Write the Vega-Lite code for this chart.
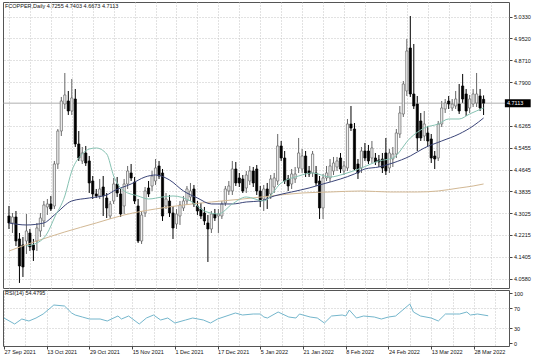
{
  "$schema": "https://vega.github.io/schema/vega-lite/v6.json",
  "padding": {"left": 1, "top": 1, "right": 0, "bottom": 0},
  "background": "white",
  "spacing": 0,
  "config": {
    "view": {"stroke": "#555", "strokeWidth": 1},
    "font": "Liberation Sans",
    "axis": {"labelFont": "Liberation Sans", "labelFontSize": 5.5, "labelColor": "#111", "gridColor": "#c4c4c4", "gridDash": [1, 2], "gridWidth": 1, "domain": false, "tickColor": "#444", "tickSize": 3, "labelPadding": 1.5, "title": null, "labelOverlap": false, "labelFlush": false, "labelBound": false},
    "title": {"font": "Liberation Sans", "fontSize": 5.5, "fontWeight": "normal", "color": "#111", "anchor": "start", "frame": "group"}
  },
  "datasets": {
    "candles": [
      {"i":0,"o":4.2919,"h":4.3291,"l":4.2436,"c":4.2659},
      {"i":1,"o":4.2659,"h":4.3031,"l":4.2287,"c":4.2882},
      {"i":2,"o":4.2882,"h":4.3105,"l":4.1804,"c":4.1990},
      {"i":3,"o":4.2065,"h":4.2287,"l":4.0430,"c":4.1061},
      {"i":4,"o":4.1842,"h":4.2139,"l":4.0652,"c":4.1024},
      {"i":5,"o":4.1990,"h":4.2994,"l":4.1507,"c":4.2362},
      {"i":6,"o":4.2287,"h":4.2436,"l":4.1618,"c":4.1767},
      {"i":7,"o":4.1842,"h":4.2065,"l":4.1247,"c":4.1656},
      {"i":8,"o":4.1990,"h":4.2659,"l":4.1618,"c":4.2473},
      {"i":9,"o":4.2362,"h":4.3031,"l":4.2139,"c":4.2845},
      {"i":10,"o":4.2734,"h":4.3477,"l":4.2510,"c":4.3328},
      {"i":11,"o":4.3254,"h":4.3551,"l":4.2957,"c":4.3366},
      {"i":12,"o":4.3366,"h":4.3663,"l":4.3105,"c":4.3180},
      {"i":13,"o":4.3291,"h":4.4964,"l":4.3180,"c":4.4852},
      {"i":14,"o":4.4852,"h":4.6153,"l":4.4666,"c":4.6079},
      {"i":15,"o":4.6079,"h":4.7343,"l":4.5893,"c":4.7194},
      {"i":16,"o":4.7082,"h":4.8235,"l":4.6897,"c":4.7417},
      {"i":17,"o":4.7194,"h":4.7566,"l":4.6674,"c":4.6822},
      {"i":18,"o":4.6822,"h":4.8012,"l":4.6674,"c":4.7306},
      {"i":19,"o":4.7268,"h":4.7640,"l":4.5484,"c":4.5596},
      {"i":20,"o":4.5596,"h":4.6079,"l":4.4964,"c":4.5075},
      {"i":21,"o":4.4964,"h":4.5484,"l":4.4852,"c":4.5261},
      {"i":22,"o":4.5261,"h":4.5521,"l":4.4778,"c":4.4890},
      {"i":23,"o":4.4964,"h":4.5150,"l":4.3774,"c":4.4146},
      {"i":24,"o":4.4220,"h":4.4406,"l":4.3551,"c":4.3737},
      {"i":25,"o":4.3737,"h":4.3923,"l":4.3588,"c":4.3663},
      {"i":26,"o":4.3663,"h":4.4295,"l":4.3551,"c":4.3923},
      {"i":27,"o":4.3997,"h":4.4406,"l":4.2919,"c":4.3663},
      {"i":28,"o":4.3588,"h":4.3774,"l":4.2845,"c":4.3217},
      {"i":29,"o":4.2919,"h":4.3477,"l":4.2808,"c":4.3366},
      {"i":30,"o":4.3477,"h":4.4332,"l":4.3366,"c":4.4109},
      {"i":31,"o":4.4109,"h":4.4369,"l":4.3626,"c":4.3774},
      {"i":32,"o":4.3737,"h":4.3923,"l":4.2882,"c":4.2994},
      {"i":33,"o":4.3291,"h":4.4295,"l":4.2994,"c":4.4109},
      {"i":34,"o":4.4109,"h":4.4778,"l":4.3923,"c":4.4592},
      {"i":35,"o":4.4518,"h":4.4852,"l":4.4220,"c":4.4332},
      {"i":36,"o":4.4183,"h":4.4369,"l":4.3366,"c":4.3477},
      {"i":37,"o":4.3291,"h":4.3551,"l":4.1916,"c":4.1990},
      {"i":38,"o":4.1990,"h":4.3105,"l":4.1879,"c":4.2957},
      {"i":39,"o":4.3031,"h":4.3997,"l":4.2882,"c":4.3849},
      {"i":40,"o":4.3960,"h":4.4220,"l":4.3626,"c":4.3737},
      {"i":41,"o":4.4034,"h":4.4592,"l":4.3849,"c":4.4406},
      {"i":42,"o":4.4220,"h":4.5038,"l":4.4072,"c":4.4704},
      {"i":43,"o":4.4778,"h":4.4964,"l":4.4295,"c":4.4406},
      {"i":44,"o":4.4518,"h":4.4666,"l":4.2734,"c":4.2919},
      {"i":45,"o":4.3291,"h":4.3774,"l":4.3180,"c":4.3551},
      {"i":46,"o":4.3477,"h":4.3700,"l":4.2882,"c":4.3031},
      {"i":47,"o":4.3031,"h":4.3291,"l":4.2065,"c":4.2473},
      {"i":48,"o":4.2622,"h":4.3180,"l":4.2436,"c":4.2994},
      {"i":49,"o":4.2919,"h":4.3477,"l":4.2585,"c":4.3328},
      {"i":50,"o":4.3217,"h":4.3663,"l":4.3105,"c":4.3477},
      {"i":51,"o":4.3477,"h":4.4034,"l":4.3328,"c":4.3923},
      {"i":52,"o":4.3626,"h":4.4146,"l":4.3477,"c":4.3849},
      {"i":53,"o":4.3923,"h":4.4072,"l":4.3254,"c":4.3366},
      {"i":54,"o":4.3291,"h":4.3477,"l":4.2957,"c":4.3105},
      {"i":55,"o":4.3180,"h":4.3403,"l":4.2808,"c":4.2919},
      {"i":56,"o":4.3031,"h":4.3254,"l":4.2585,"c":4.2734},
      {"i":57,"o":4.2659,"h":4.2957,"l":4.1210,"c":4.2436},
      {"i":58,"o":4.2436,"h":4.3105,"l":4.2287,"c":4.2994},
      {"i":59,"o":4.2994,"h":4.3180,"l":4.2734,"c":4.2845},
      {"i":60,"o":4.2919,"h":4.3180,"l":4.2287,"c":4.2994},
      {"i":61,"o":4.2919,"h":4.3477,"l":4.2808,"c":4.3366},
      {"i":62,"o":4.3403,"h":4.4034,"l":4.3291,"c":4.3923},
      {"i":63,"o":4.3849,"h":4.4220,"l":4.3700,"c":4.4034},
      {"i":64,"o":4.3849,"h":4.4964,"l":4.3700,"c":4.4666},
      {"i":65,"o":4.4666,"h":4.4927,"l":4.4034,"c":4.4146},
      {"i":66,"o":4.4332,"h":4.4518,"l":4.3997,"c":4.4146},
      {"i":67,"o":4.4295,"h":4.4443,"l":4.3774,"c":4.3849},
      {"i":68,"o":4.3960,"h":4.4592,"l":4.3774,"c":4.4443},
      {"i":69,"o":4.4220,"h":4.4778,"l":4.4072,"c":4.4592},
      {"i":70,"o":4.4592,"h":4.4741,"l":4.3997,"c":4.4146},
      {"i":71,"o":4.4666,"h":4.4815,"l":4.3700,"c":4.3849},
      {"i":72,"o":4.3849,"h":4.4034,"l":4.3254,"c":4.3477},
      {"i":73,"o":4.3551,"h":4.4072,"l":4.3105,"c":4.3923},
      {"i":74,"o":4.3923,"h":4.4146,"l":4.3180,"c":4.3663},
      {"i":75,"o":4.3737,"h":4.4443,"l":4.3551,"c":4.4295},
      {"i":76,"o":4.3997,"h":4.4518,"l":4.3774,"c":4.4332},
      {"i":77,"o":4.4220,"h":4.5967,"l":4.4072,"c":4.5521},
      {"i":78,"o":4.5521,"h":4.5707,"l":4.4964,"c":4.5075},
      {"i":79,"o":4.5075,"h":4.5335,"l":4.4109,"c":4.4220},
      {"i":80,"o":4.4295,"h":4.4443,"l":4.3849,"c":4.4034},
      {"i":81,"o":4.4109,"h":4.4666,"l":4.3923,"c":4.4481},
      {"i":82,"o":4.4295,"h":4.4741,"l":4.4146,"c":4.4481},
      {"i":83,"o":4.4704,"h":4.5819,"l":4.4518,"c":4.5261},
      {"i":84,"o":4.4666,"h":4.5410,"l":4.4518,"c":4.5150},
      {"i":85,"o":4.5150,"h":4.5335,"l":4.4369,"c":4.4518},
      {"i":86,"o":4.4592,"h":4.4778,"l":4.4369,"c":4.4481},
      {"i":87,"o":4.4518,"h":4.5335,"l":4.4369,"c":4.5224},
      {"i":88,"o":4.4518,"h":4.4778,"l":4.4034,"c":4.4146},
      {"i":89,"o":4.4220,"h":4.4406,"l":4.2808,"c":4.3217},
      {"i":90,"o":4.3217,"h":4.4481,"l":4.2808,"c":4.4332},
      {"i":91,"o":4.4332,"h":4.4778,"l":4.4220,"c":4.4518},
      {"i":92,"o":4.4332,"h":4.5038,"l":4.4183,"c":4.4778},
      {"i":93,"o":4.4592,"h":4.5113,"l":4.4443,"c":4.4890},
      {"i":94,"o":4.4741,"h":4.5113,"l":4.4592,"c":4.4964},
      {"i":95,"o":4.5075,"h":4.5261,"l":4.4518,"c":4.4666},
      {"i":96,"o":4.4592,"h":4.4964,"l":4.4443,"c":4.4778},
      {"i":97,"o":4.4704,"h":4.6525,"l":4.4592,"c":4.6339},
      {"i":98,"o":4.6339,"h":4.7008,"l":4.6079,"c":4.6190},
      {"i":99,"o":4.6153,"h":4.6376,"l":4.4592,"c":4.4666},
      {"i":100,"o":4.4852,"h":4.5038,"l":4.4295,"c":4.4518},
      {"i":101,"o":4.4704,"h":4.5484,"l":4.4518,"c":4.5335},
      {"i":102,"o":4.5335,"h":4.5633,"l":4.4964,"c":4.5075},
      {"i":103,"o":4.5335,"h":4.5559,"l":4.4852,"c":4.4964},
      {"i":104,"o":4.5075,"h":4.5707,"l":4.4890,"c":4.5447},
      {"i":105,"o":4.5075,"h":4.5261,"l":4.4815,"c":4.4927},
      {"i":106,"o":4.5001,"h":4.5187,"l":4.4741,"c":4.4927},
      {"i":107,"o":4.5038,"h":4.5261,"l":4.4518,"c":4.4704},
      {"i":108,"o":4.5261,"h":4.5819,"l":4.4443,"c":4.4592},
      {"i":109,"o":4.4704,"h":4.5410,"l":4.4518,"c":4.5261},
      {"i":110,"o":4.5038,"h":4.5484,"l":4.4741,"c":4.5224},
      {"i":111,"o":4.5224,"h":4.6153,"l":4.5075,"c":4.6005},
      {"i":112,"o":4.5967,"h":4.7008,"l":4.5819,"c":4.6748},
      {"i":113,"o":4.6711,"h":4.7937,"l":4.6599,"c":4.7826},
      {"i":114,"o":4.7566,"h":4.9499,"l":4.7380,"c":4.9052},
      {"i":115,"o":4.9164,"h":5.0353,"l":4.7343,"c":4.7454},
      {"i":116,"o":4.7454,"h":4.9313,"l":4.6897,"c":4.7008},
      {"i":117,"o":4.7082,"h":4.7380,"l":4.5335,"c":4.5819},
      {"i":118,"o":4.6451,"h":4.6748,"l":4.5707,"c":4.5819},
      {"i":119,"o":4.5893,"h":4.6822,"l":4.5707,"c":4.6339},
      {"i":120,"o":4.6005,"h":4.6265,"l":4.5521,"c":4.5707},
      {"i":121,"o":4.5782,"h":4.5967,"l":4.4890,"c":4.5075},
      {"i":122,"o":4.5150,"h":4.5335,"l":4.4666,"c":4.5038},
      {"i":123,"o":4.5075,"h":4.6451,"l":4.4964,"c":4.6339},
      {"i":124,"o":4.6339,"h":4.7194,"l":4.6228,"c":4.6934},
      {"i":125,"o":4.6897,"h":4.7268,"l":4.6748,"c":4.7120},
      {"i":126,"o":4.7194,"h":4.7380,"l":4.6897,"c":4.7082},
      {"i":127,"o":4.6934,"h":4.7268,"l":4.6822,"c":4.7082},
      {"i":128,"o":4.7008,"h":4.7566,"l":4.6897,"c":4.7268},
      {"i":129,"o":4.7082,"h":4.7826,"l":4.6711,"c":4.6822},
      {"i":130,"o":4.7752,"h":4.8198,"l":4.7120,"c":4.7268},
      {"i":131,"o":4.7454,"h":4.7640,"l":4.6636,"c":4.6822},
      {"i":132,"o":4.6934,"h":4.7417,"l":4.6748,"c":4.7268},
      {"i":133,"o":4.7082,"h":4.7640,"l":4.6971,"c":4.7454},
      {"i":134,"o":4.7120,"h":4.8235,"l":4.6971,"c":4.7454},
      {"i":135,"o":4.7380,"h":4.7640,"l":4.6822,"c":4.6934},
      {"i":136,"o":4.7255,"h":4.7403,"l":4.6673,"c":4.7113}
    ],
    "fast": [
      {"i":5,"v":4.1804},{"i":9,"v":4.1990},{"i":11,"v":4.2287},{"i":13,"v":4.2845},{"i":16,"v":4.3663},{"i":18,"v":4.4592},{"i":21,"v":4.5224},{"i":23,"v":4.5410},{"i":25,"v":4.5447},{"i":28,"v":4.5224},{"i":30,"v":4.4406},{"i":33,"v":4.3849},{"i":37,"v":4.3663},{"i":40,"v":4.3551},{"i":44,"v":4.3626},{"i":47,"v":4.3663},{"i":52,"v":4.3477},{"i":56,"v":4.3105},{"i":60,"v":4.2994},{"i":64,"v":4.3366},{"i":68,"v":4.3626},{"i":73,"v":4.3477},{"i":78,"v":4.4146},{"i":83,"v":4.4406},{"i":87,"v":4.4518},{"i":92,"v":4.4369},{"i":96,"v":4.4481},{"i":101,"v":4.4704},{"i":106,"v":4.4964},{"i":110,"v":4.5075},{"i":115,"v":4.5819},{"i":119,"v":4.6190},{"i":123,"v":4.6339},{"i":126,"v":4.6525},{"i":129,"v":4.6525},{"i":132,"v":4.6711},{"i":136,"v":4.6934}
    ],
    "mid": [
      {"i":0,"v":4.2659},{"i":5,"v":4.2585},{"i":10,"v":4.2659},{"i":13,"v":4.2957},{"i":18,"v":4.3477},{"i":23,"v":4.3588},{"i":28,"v":4.3700},{"i":30,"v":4.3849},{"i":35,"v":4.4109},{"i":39,"v":4.4369},{"i":42,"v":4.4443},{"i":46,"v":4.4258},{"i":50,"v":4.3849},{"i":54,"v":4.3588},{"i":58,"v":4.3366},{"i":64,"v":4.3366},{"i":68,"v":4.3440},{"i":72,"v":4.3477},{"i":76,"v":4.3663},{"i":81,"v":4.3811},{"i":86,"v":4.3960},{"i":90,"v":4.4109},{"i":95,"v":4.4295},{"i":99,"v":4.4481},{"i":102,"v":4.4666},{"i":106,"v":4.4741},{"i":110,"v":4.4890},{"i":115,"v":4.5150},{"i":119,"v":4.5447},{"i":124,"v":4.5707},{"i":129,"v":4.5967},{"i":133,"v":4.6265},{"i":136,"v":4.6562}
    ],
    "slow": [
      {"i":0,"v":4.1618},{"i":8,"v":4.1990},{"i":16,"v":4.2325},{"i":25,"v":4.2659},{"i":33,"v":4.2957},{"i":42,"v":4.3180},{"i":50,"v":4.3328},{"i":58,"v":4.3440},{"i":67,"v":4.3551},{"i":75,"v":4.3663},{"i":84,"v":4.3774},{"i":92,"v":4.3811},{"i":101,"v":4.3849},{"i":109,"v":4.3811},{"i":117,"v":4.3811},{"i":123,"v":4.3849},{"i":129,"v":4.3960},{"i":133,"v":4.4034},{"i":136,"v":4.4109}
    ],
    "rsi": [
      {"i":0,"v":50},{"i":3,"v":38},{"i":5,"v":48},{"i":7,"v":44},{"i":9,"v":50},{"i":11,"v":58},{"i":13,"v":70},{"i":14,"v":76},{"i":17,"v":74},{"i":19,"v":60},{"i":20,"v":56},{"i":22,"v":52},{"i":24,"v":48},{"i":27,"v":48},{"i":29,"v":44},{"i":32,"v":54},{"i":33,"v":48},{"i":35,"v":54},{"i":38,"v":38},{"i":40,"v":50},{"i":42,"v":56},{"i":44,"v":46},{"i":46,"v":50},{"i":48,"v":40},{"i":51,"v":46},{"i":53,"v":50},{"i":56,"v":46},{"i":58,"v":40},{"i":60,"v":48},{"i":65,"v":60},{"i":67,"v":56},{"i":70,"v":58},{"i":72,"v":58},{"i":73,"v":52},{"i":74,"v":50},{"i":77,"v":62},{"i":80,"v":52},{"i":82,"v":50},{"i":83,"v":58},{"i":86,"v":52},{"i":88,"v":50},{"i":90,"v":40},{"i":92,"v":54},{"i":95,"v":56},{"i":96,"v":54},{"i":97,"v":66},{"i":99,"v":50},{"i":101,"v":54},{"i":104,"v":52},{"i":106,"v":48},{"i":108,"v":52},{"i":110,"v":54},{"i":114,"v":78},{"i":115,"v":62},{"i":117,"v":54},{"i":120,"v":50},{"i":122,"v":44},{"i":124,"v":58},{"i":127,"v":58},{"i":128,"v":58},{"i":130,"v":62},{"i":131,"v":56},{"i":133,"v":58},{"i":136,"v":54.48}
    ]
  },
  "vconcat": [
    {
      "width": 506,
      "height": 286,
      "title": {"text": "FCOPPER,Daily  4.7255 4.7403 4.6673 4.7113", "offset": -7, "dx": 2},
      "data": {"name": "candles"},
      "resolve": {"axis": {"x": "independent", "y": "independent"}},
      "layer": [
        {
          "mark": {"type": "rule", "strokeWidth": 1},
          "encoding": {
            "x": {"field": "i", "type": "quantitative", "scale": {"domain": [-0.28, 141.85], "nice": false, "zero": false},
                  "axis": {"orient": "bottom", "values": [0,6,12,18,24,30,36,42,48,54,60,66,72,78,84,90,96,102,108,114,120,126,132,138], "labels": false, "ticks": false, "grid": true}},
            "y": {"field": "l", "type": "quantitative", "scale": {"domain": [4.0242, 5.0874], "nice": false, "zero": false},
                  "axis": {"orient": "right", "values": [5.033, 4.952, 4.871, 4.79, 4.6265, 4.5455, 4.4645, 4.3835, 4.3025, 4.2215, 4.1405, 4.058], "format": ".4f", "grid": true, "labelOverlap": false, "labelBound": false, "labelFlush": false}},
            "y2": {"field": "h"},
            "color": {"condition": {"test": "datum.c < datum.o", "value": "#000000"}, "value": "#666666"}
          }
        },
        {
          "data": {"values": [{"p": 4.7113}]},
          "mark": {"type": "rule", "color": "#9a9a9a", "strokeWidth": 0.8},
          "encoding": {"y": {"field": "p", "type": "quantitative", "axis": null}}
        },
        {
          "mark": {"type": "bar", "width": 2.2, "strokeWidth": 0.7},
          "encoding": {
            "x": {"field": "i", "type": "quantitative", "axis": null},
            "y": {"field": "o", "type": "quantitative", "axis": null},
            "y2": {"field": "c"},
            "fill": {"condition": {"test": "datum.c < datum.o", "value": "#000000"}, "value": "#f2f2f2"},
            "stroke": {"condition": {"test": "datum.c < datum.o", "value": "#000000"}, "value": "#666666"}
          }
        },
        {
          "data": {"name": "slow"},
          "mark": {"type": "line", "color": "#d2b894", "strokeWidth": 1, "interpolate": "monotone"},
          "encoding": {"x": {"field": "i", "type": "quantitative", "axis": null}, "y": {"field": "v", "type": "quantitative", "axis": null}}
        },
        {
          "data": {"name": "mid"},
          "mark": {"type": "line", "color": "#3b4578", "strokeWidth": 1, "interpolate": "monotone"},
          "encoding": {"x": {"field": "i", "type": "quantitative", "axis": null}, "y": {"field": "v", "type": "quantitative", "axis": null}}
        },
        {
          "data": {"name": "fast"},
          "mark": {"type": "line", "color": "#86c2b2", "strokeWidth": 1, "interpolate": "monotone"},
          "encoding": {"x": {"field": "i", "type": "quantitative", "axis": null}, "y": {"field": "v", "type": "quantitative", "axis": null}}
        },
        {
          "data": {"values": [{"p": 4.7113}]},
          "mark": {"type": "rect", "color": "#000000"},
          "encoding": {"x": {"datum": 142.1, "axis": null}, "x2": {"datum": 149.5}, "y": {"datum": 4.7263, "axis": null}, "y2": {"datum": 4.6963}}
        },
        {
          "data": {"values": [{"p": 4.7113}]},
          "mark": {"type": "text", "color": "#ffffff", "align": "left", "baseline": "middle", "font": "Liberation Sans", "fontSize": 5.5},
          "encoding": {"x": {"datum": 142.7, "axis": null}, "y": {"field": "p", "type": "quantitative", "axis": null}, "text": {"field": "p", "type": "quantitative", "format": ".4f"}}
        }
      ]
    },
    {
      "width": 506,
      "height": 56,
      "title": {"text": "RSI(14) 54.4795", "offset": -6, "dx": 2},
      "data": {"name": "rsi"},
      "mark": {"type": "line", "color": "#74b6cc", "strokeWidth": 1},
      "encoding": {
        "x": {"field": "i", "type": "quantitative", "scale": {"domain": [-0.28, 141.85], "nice": false, "zero": false},
              "axis": {"orient": "bottom", "values": [0,6,12,18,24,30,36,42,48,54,60,66,72,78,84,90,96,102,108,114,120,126,132,138], "grid": true, "labelAlign": "left", "labelPadding": 0.5, "tickSize": 3, "labelOverlap": false,
                       "tickOpacity": {"condition": {"test": "datum.value % 12 == 0", "value": 1}, "value": 0},
                       "labelExpr": "datum.value % 12 == 0 && datum.value <= 132 ? ['27 Sep 2021','13 Oct 2021','29 Oct 2021','15 Nov 2021','1 Dec 2021','17 Dec 2021','5 Jan 2022','21 Jan 2022','8 Feb 2022','24 Feb 2022','13 Mar 2022','28 Mar 2022'][datum.value / 12] : ''"}},
        "y": {"field": "v", "type": "quantitative", "scale": {"domain": [-6, 106], "nice": false, "zero": false},
              "axis": {"orient": "right", "values": [0, 30, 70, 100], "grid": true, "labelOverlap": false,
                       "gridOpacity": {"condition": {"test": "datum.value == 0 || datum.value == 100", "value": 0}, "value": 1}}}
      }
    }
  ]
}
